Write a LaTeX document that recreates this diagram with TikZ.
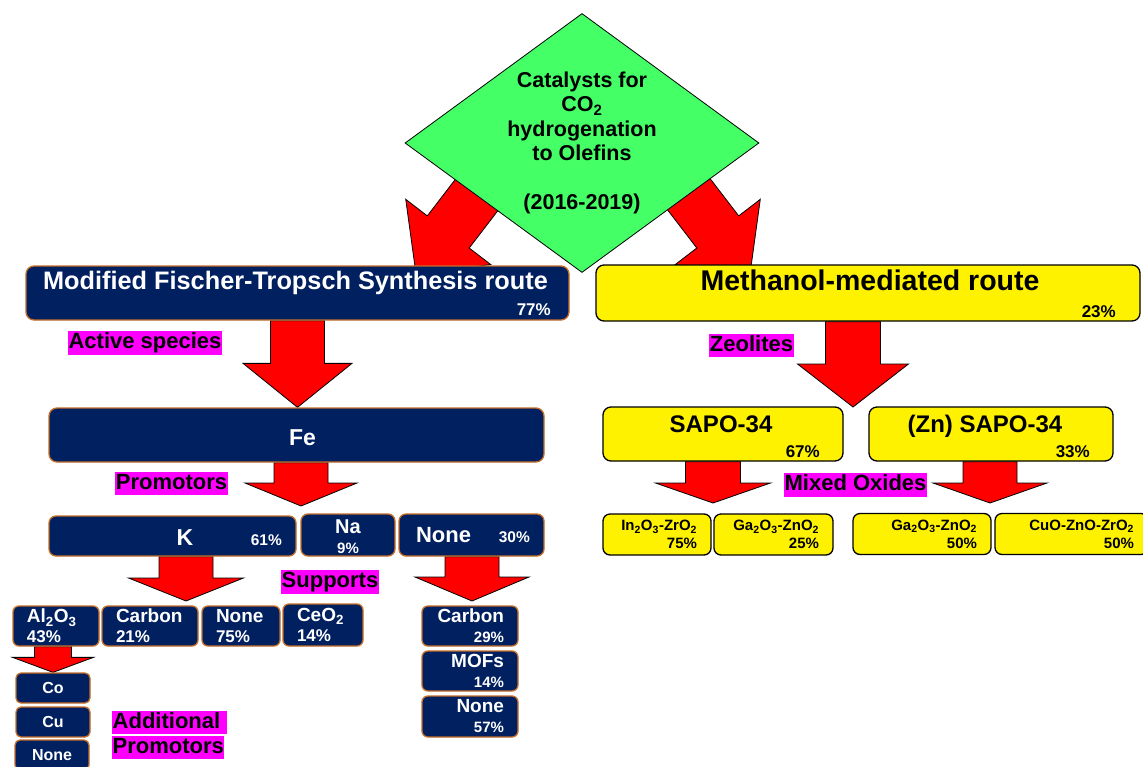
\documentclass[tikz,border=0pt]{standalone}
\usepackage{fontspec}
\setmainfont{Liberation Sans}
\usetikzlibrary{shapes.geometric,calc}

\pgfdeclarelayer{bg}
\pgfsetlayers{bg,main}

\definecolor{navy}{RGB}{0,32,96}
\definecolor{rim}{RGB}{197,110,40}
\definecolor{leaf}{RGB}{68,255,102}
\definecolor{hilite}{RGB}{255,0,255}

\newcommand\sz[2]{\fontsize{#1}{#2}\selectfont\bfseries}

% block arrow: start, tip, shaft half width, head half width, head length
\newcommand\fatarrow[5]{%
  \coordinate (fa-s) at #1;
  \coordinate (fa-t) at #2;
  \coordinate (fa-h) at ($(fa-t)!#5!(fa-s)$);
  \draw[fat]
    ($(fa-s)!#3!90:(fa-t)$) -- ($(fa-h)!#3!90:(fa-t)$) --
    ($(fa-h)!#4!90:(fa-t)$) -- (fa-t) --
    ($(fa-h)!#4!-90:(fa-t)$) -- ($(fa-h)!#3!-90:(fa-t)$) --
    ($(fa-s)!#3!-90:(fa-t)$) -- cycle;
}

\begin{document}
\begin{tikzpicture}[
  x=1pt, y=-1pt,
  navybox/.style={draw=rim, line width=1.3pt, fill=navy, rounded corners=8pt, inner sep=0pt, text=white},
  yelbox/.style={draw=black, line width=1.3pt, fill=yellow, rounded corners=8pt, inner sep=0pt},
  supbox/.style={navybox, rounded corners=6pt, minimum height=40pt, inner xsep=14pt, font=\sz{19}{20}},
  smallbox/.style={navybox, rounded corners=5pt, minimum width=74pt, minimum height=30pt, font=\sz{16}{18}},
  oxbox/.style={yelbox, rounded corners=7pt, minimum height=41pt, inner xsep=14pt, align=right, font=\sz{15}{18}},
  tag/.style={fill=hilite, inner xsep=0.5pt, inner ysep=1.2pt, text height=16.5pt, text depth=4.8pt, font=\sz{22}{26}},
  wtext/.style={text=white, inner sep=0pt},
  btext/.style={text=black, inner sep=0pt},
  fat/.style={draw=black, line width=0.8pt, fill=red, line join=miter}
]
  \useasboundingbox (0,0) rectangle (1143,766);

  % Top
  \node[diamond, aspect=1.367, draw=black, line width=0.8pt, fill=leaf, minimum width=354pt, minimum height=259pt,
        inner sep=0pt, align=center, font=\sz{21.5}{24.5}] (cat) at (582,143)
    {Catalysts for\\CO\textsubscript{2}\\hydrogenation\\to Olefins\\[24.5pt](2016-2019)};

  % Routes
  \node[navybox, minimum width=543pt, minimum height=54pt] (ft) at (297.5,293) {};
  \node[wtext, anchor=base, font=\sz{25.3}{28}] (ft-t) at (295.5,289) {Modified Fischer-Tropsch Synthesis route};
  \node[wtext, anchor=base east, font=\sz{17}{20}] (ft-p) at (551,315) {77\%};

  \node[yelbox, minimum width=544pt, minimum height=56pt] (me) at (868,293) {};
  \node[btext, anchor=base, font=\sz{28.5}{30}] (me-t) at (870,290) {Methanol-mediated route};
  \node[btext, anchor=base east, font=\sz{17}{20}] (me-p) at (1116,317) {23\%};

  \node[tag] (act) at (145,343) {Active species};
  \node[tag] (zeo) at (751.5,345.5) {Zeolites};

  % Fe branch
  \node[navybox, minimum width=495pt, minimum height=54pt] (fe) at (296.5,435) {};
  \node[wtext, anchor=base, font=\sz{23}{26}] (fe-t) at (302.5,445) {Fe};

  \node[tag] (prom) at (171.5,483.5) {Promotors};

  \node[navybox, rounded corners=7pt, minimum width=247pt, minimum height=40pt] (k) at (172.5,536) {};
  \node[wtext, anchor=base, font=\sz{23}{26}] (k-t) at (185,545) {K};
  \node[wtext, anchor=base east, font=\sz{15.5}{18}] (k-p) at (282,545) {61\%};

  \node[navybox, rounded corners=7pt, minimum width=94pt, minimum height=42pt] (na) at (348,535) {};
  \node[wtext, anchor=base, font=\sz{20}{22}] (na-t) at (348,533) {Na};
  \node[wtext, anchor=base, font=\sz{15}{18}] (na-p) at (348,553) {9\%};

  \node[navybox, rounded corners=7pt, minimum width=145pt, minimum height=42pt] (none) at (471.5,535) {};
  \node[wtext, anchor=base, font=\sz{22}{24}] (none-t) at (443.5,542) {None};
  \node[wtext, anchor=base east, font=\sz{15.5}{18}] (none-p) at (530,542) {30\%};

  \node[tag] (sup) at (330,582) {Supports};

  % Supports
  \node[supbox, text width=58pt, align=left] (al) at (56,626)
    {Al\textsubscript{2}O\textsubscript{3}\\{\sz{17}{20}43\%}};
  \node[supbox, text width=68pt, align=left] (c1) at (150,626) {Carbon\\{\sz{17}{20}21\%}};
  \node[supbox, text width=50pt, align=left] (n1) at (241,626) {None\\{\sz{17}{20}75\%}};
  \node[supbox, text width=52pt, align=left, minimum height=42pt] (ce) at (323,625)
    {CeO\textsubscript{2}\\{\sz{17}{20}14\%}};

  \node[supbox, text width=68pt, align=right] (c2) at (470,626) {Carbon\\{\sz{15}{20}29\%}};
  \node[supbox, text width=68pt, align=right] (mof) at (470,671) {MOFs\\{\sz{15}{20}14\%}};
  \node[supbox, text width=68pt, align=right, minimum height=41pt] (n2) at (470,716.5) {None\\{\sz{15}{20}57\%}};

  % Additional promotors
  \node[smallbox] (co) at (53,688) {Co};
  \node[smallbox] (cu) at (53,722) {Cu};
  \node[smallbox] (n3) at (52,755) {None};

  \node[tag, anchor=west] (add1) at (112,722.5) {Additional\kern6pt};
  \node[tag, anchor=west] (add2) at (112,747.5) {Promotors};

  % Zeolite branch
  \node[yelbox, minimum width=240pt, minimum height=54pt] (sapo) at (723,434) {};
  \node[btext, anchor=base, font=\sz{24}{26}] (sapo-t) at (721,432) {SAPO-34};
  \node[btext, anchor=base east, font=\sz{17}{20}] (sapo-p) at (820,457) {67\%};

  \node[yelbox, minimum width=244pt, minimum height=54pt] (zn) at (991,434) {};
  \node[btext, anchor=base, font=\sz{24}{26}] (zn-t) at (985,432) {(Zn) SAPO-34};
  \node[btext, anchor=base east, font=\sz{17}{20}] (zn-p) at (1090,457) {33\%};

  \node[tag] (mix) at (855.5,485) {Mixed Oxides};

  % Mixed oxides
  \node[oxbox, text width=80pt] (ox1) at (657,534.5)
    {In\textsubscript{2}O\textsubscript{3}-ZrO\textsubscript{2}\\75\%};
  \node[oxbox, text width=91pt] (ox2) at (773.5,534.5)
    {Ga\textsubscript{2}O\textsubscript{3}-ZnO\textsubscript{2}\\25\%};
  \node[oxbox, text width=110pt] (ox3) at (922,534)
    {Ga\textsubscript{2}O\textsubscript{3}-ZnO\textsubscript{2}\\50\%};
  \node[oxbox, text width=125pt] (ox4) at (1071.5,534)
    {CuO-ZnO-ZrO\textsubscript{2}\\50\%};

  % Arrow ends
  \coordinate (catL) at (495,171);
  \coordinate (ftIn) at (416,274);
  \coordinate (catR) at (671,171);
  \coordinate (meIn) at (750,274);
  \coordinate (zeoTip) at (853,407);
  \coordinate (promTip) at (301,506);
  \coordinate (oxTipA) at (713,503);
  \coordinate (oxTipB) at (990,503);
  \coordinate (supTipA) at (186,601);
  \coordinate (supTipB) at (472,601);

  % Arrows
  \begin{pgfonlayer}{bg}
    \fatarrow{(catL)}{(ftIn)}{26.4pt}{53.6pt}{53pt}
    \fatarrow{(catR)}{(meIn)}{26.4pt}{53.6pt}{53pt}
    \fatarrow{(ft.south)}{(ft.south |- fe.north)}{27pt}{54.5pt}{44pt}
    \fatarrow{(me.south -| zeoTip)}{(zeoTip)}{27.5pt}{55.5pt}{43pt}
    \fatarrow{(fe.south -| promTip)}{(promTip)}{27pt}{56pt}{23pt}
    \fatarrow{(sapo.south -| oxTipA)}{(oxTipA)}{27.5pt}{57.5pt}{20pt}
    \fatarrow{(zn.south -| oxTipB)}{(oxTipB)}{27pt}{57pt}{20pt}
    \fatarrow{(k.south -| supTipA)}{(supTipA)}{27pt}{57.5pt}{23pt}
    \fatarrow{(none.south -| supTipB)}{(supTipB)}{27pt}{57pt}{24pt}
    \fatarrow{(al.south -| co.north)}{(co.north)}{18.5pt}{40.5pt}{15pt}
  \end{pgfonlayer}
\end{tikzpicture}
\end{document}
